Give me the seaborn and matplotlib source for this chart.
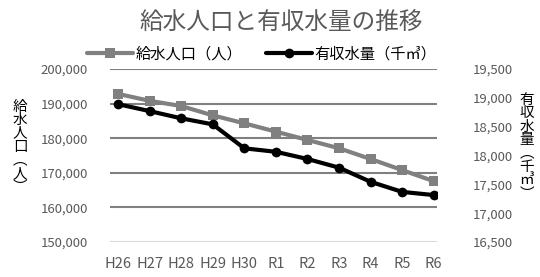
import matplotlib
matplotlib.use("Agg")
import matplotlib.pyplot as plt
import seaborn as sns
import pandas as pd

years = ["H26", "H27", "H28", "H29", "H30", "R1", "R2", "R3", "R4", "R5", "R6"]
population = [192800, 190800, 189300, 186600, 184300, 181900, 179500, 177100, 174000, 170800, 167600]
water = [18890, 18770, 18645, 18540, 18125, 18065, 17940, 17790, 17545, 17370, 17315]

sns.set_theme(style="white")
plt.rcParams['font.family'] = ['Noto Sans CJK JP', 'DejaVu Sans']

df = pd.DataFrame({"year": years, "pop": population, "water": water})

fig = plt.figure(figsize=(5.4, 2.77), dpi=100)
ax = fig.add_axes([0.204, 0.126, 0.605, 0.625])
ax2 = ax.twinx()

gray_txt = "#595959"

sns.lineplot(data=df, x="year", y="pop", ax=ax, color="#808080", marker="s",
             markersize=7, linewidth=3, markeredgewidth=0, label="給水人口（人）", sort=False)
sns.lineplot(data=df, x="year", y="water", ax=ax2, color="#000000", marker="o",
             markersize=7, linewidth=3, markeredgewidth=0, label="有収水量（千㎥）", sort=False)

ax.set_ylim(150000, 200000)
ax.set_yticks([150000, 160000, 170000, 180000, 190000, 200000])
ax.set_yticklabels([f"{v:,}" for v in ax.get_yticks().astype(int)])
ax2.set_ylim(16500, 19500)
ax2.set_yticks([16500, 17000, 17500, 18000, 18500, 19000, 19500])
ax2.set_yticklabels([f"{v:,}" for v in ax2.get_yticks().astype(int)])
ax.set_xlim(-0.25, len(years) - 1 + 0.1)

for v in [160000, 170000, 180000, 190000, 200000]:
    ax.axhline(v, color="#808080", lw=1.5, zorder=0)
ax.axhline(150000, color="#d9d9d9", lw=1.5, zorder=0)

for a in (ax, ax2):
    for s in a.spines.values():
        s.set_visible(False)
    a.tick_params(length=0, labelsize=9.5, colors=gray_txt)
    a.set_xlabel("")
    a.set_ylabel("")
ax.tick_params(axis="y", pad=16)
ax2.tick_params(axis="y", pad=26)
ax.tick_params(axis="x", pad=11, labelsize=10.5)

h1, l1 = ax.get_legend_handles_labels()
h2, l2 = ax2.get_legend_handles_labels()
ax.get_legend().remove()
ax2.get_legend().remove()
fig.legend(h1 + h2, l1 + l2, loc="center", bbox_to_anchor=(0.485, 0.805), ncol=2,
           frameon=False, fontsize=11, handlelength=3.0, columnspacing=1.6,
           handletextpad=0.15, labelcolor="#000000")

fig.text(0.52, 0.92, "給水人口と有収水量の推移", ha="center", va="center",
         fontsize=17, color=gray_txt)

fig.text(0.037, 0.47, "\n".join("給水人口︵人︶"), ha="center", va="center",
         fontsize=10.5, color="#000000", linespacing=0.95)
fig.text(0.975, 0.47, "\n".join("有収水量︵千㎥︶"), ha="center", va="center",
         fontsize=10.5, color="#000000", linespacing=0.95)

fig.savefig("out.png", dpi=100)
